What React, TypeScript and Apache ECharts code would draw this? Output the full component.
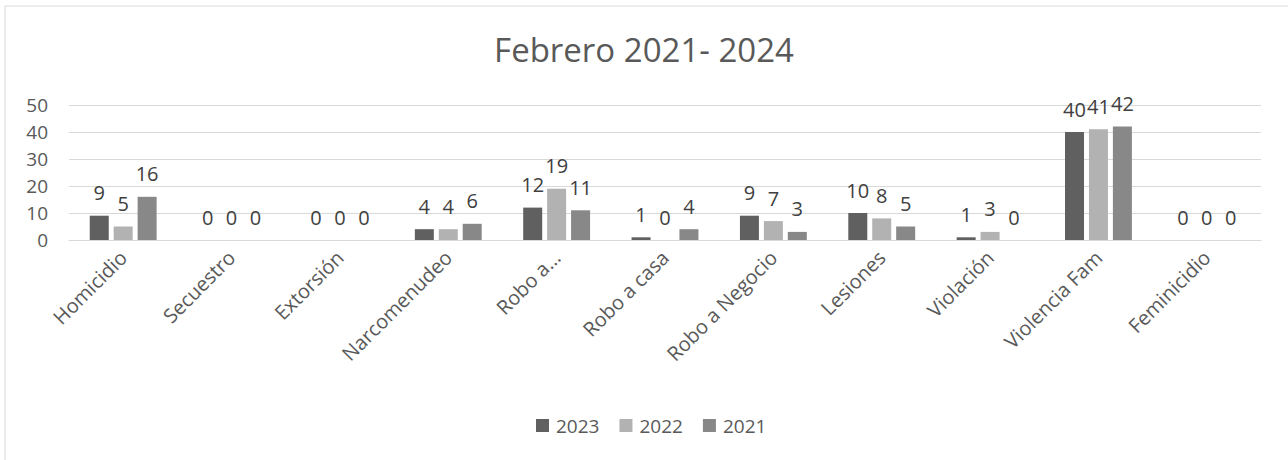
import React, { useEffect, useRef } from "react";
import * as echarts from "echarts";

const categories = [
  "Homicidio",
  "Secuestro",
  "Extorsión",
  "Narcomenudeo",
  "Robo a…",
  "Robo a casa",
  "Robo a Negocio",
  "Lesiones",
  "Violación",
  "Violencia Fam",
  "Feminicidio",
];
const seriesNames = ["2023", "2022", "2021"];
const values2023 = [9, 0, 0, 4, 12, 1, 9, 10, 1, 40, 0];
const values2022 = [5, 0, 0, 4, 19, 0, 7, 8, 3, 41, 0];
const values2021 = [16, 0, 0, 6, 11, 4, 3, 5, 0, 42, 0];
const colors = ["#606060", "#b2b2b2", "#888888"];
const titleText = "Febrero 2021- 2024";

const FONT = "'Open Sans', 'Noto Sans', sans-serif";

export default function App() {
  const ref = useRef<HTMLDivElement>(null);
  useEffect(() => {
    if (!ref.current) return;
    const chart = echarts.init(ref.current, undefined, { renderer: "svg" });
    const data = [values2023, values2022, values2021];
    chart.setOption({
      animation: false,
      backgroundColor: "#ffffff",
      textStyle: { fontFamily: FONT },
      title: {
        text: titleText,
        left: "center",
        top: 28,
        textStyle: { fontFamily: FONT, fontSize: 33, fontWeight: "normal", color: "#595959" },
      },
      legend: {
        top: 411,
        left: 531,
        itemWidth: 13,
        itemHeight: 13,
        itemGap: 20,
        icon: "rect",
        textStyle: { fontFamily: FONT, fontSize: 19, color: "#595959", padding: [0, 0, 0, 2] },
        data: seriesNames,
      },
      grid: { left: 69, right: 27, top: 105, bottom: 220, containLabel: false },
      xAxis: {
        type: "category",
        data: categories,
        axisLine: { show: true, lineStyle: { color: "#d9d9d9" } },
        axisTick: { show: false },
        axisLabel: {
          rotate: 45,
          interval: 0,
          margin: 14,
          fontFamily: FONT,
          fontSize: 20,
          color: "#595959",
        },
      },
      yAxis: {
        type: "value",
        min: 0,
        max: 50,
        interval: 10,
        axisLine: { show: false },
        axisTick: { show: false },
        splitLine: { lineStyle: { color: "#d9d9d9", width: 1 } },
        axisLabel: { fontFamily: FONT, fontSize: 19, color: "#595959", margin: 21 },
      },
      graphic: [
        {
          type: "rect",
          shape: { x: 5, y: 6, width: 1300, height: 470 },
          style: { fill: "none", stroke: "#d9d9d9", lineWidth: 1 },
          silent: true,
          z: -1,
        },
      ],
      series: seriesNames.map((name, i) => ({
        name,
        type: "bar",
        data: data[i],
        barWidth: 19,
        barGap: "26%",
        itemStyle: { color: colors[i] },
        label: {
          show: true,
          position: "top",
          distance: 13,
          fontFamily: FONT,
          fontSize: 20,
          color: "#404040",
        },
      })),
    });
    return () => chart.dispose();
  }, []);
  return (
    <div
      ref={ref}
      style={{ position: "absolute", left: 0, top: 0, width: 1288, height: 460 }}
    />
  );
}
